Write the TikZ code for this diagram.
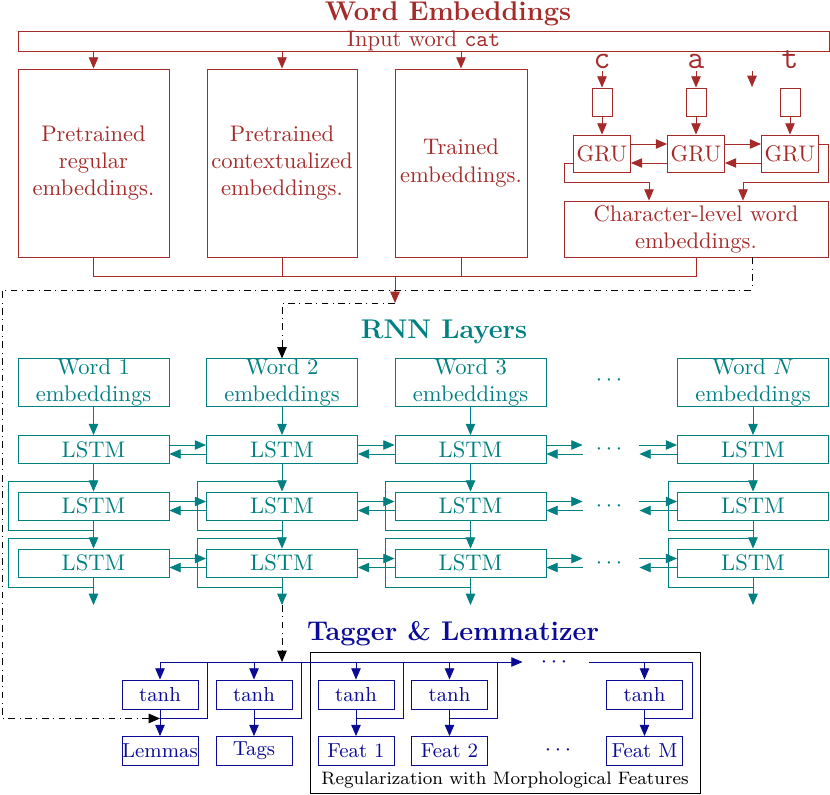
\documentclass[tikz,border=0pt]{standalone}
\usepackage{amsmath,amssymb,amsfonts}
\usepackage{tikz}
\usetikzlibrary{arrows.meta, positioning}
\usepackage{xcolor}

\definecolor{embred}{RGB}{165,42,42}
\definecolor{rnnteal}{RGB}{0,128,128}
\definecolor{tagblue}{RGB}{10,10,150}

\newlength{\px}
\setlength{\px}{0.0156cm}

\tikzset{
  cell/.style={draw, inner sep=0pt, align=center},
  embbox/.style={cell, embred},
  rnnbox/.style={cell, rnnteal, minimum width=151\px},
  tagbox/.style={cell, tagblue, font=\small, minimum width=76\px, minimum height=29\px},
  titletext/.style={font=\large\bfseries},
  hdots/.style={inner sep=0pt, minimum width=56\px},
  skipline/.style={dash dot, black},
}

\begin{document}
\begin{tikzpicture}[x=\px, y=-\px, >={Triangle[length=5pt, width=4.2pt]}]
    \useasboundingbox (0,0) rectangle (830,794);

    % word embeddings
    \begin{scope}[embred]
    \node[titletext] (embtitle) at (448,14) {Word Embeddings};
    \node[embbox, minimum width=811\px, minimum height=18\px] (input) at (423.5,41) {Input word \texttt{cat}};
    \node[embbox, minimum width=151\px, minimum height=188\px] (pre) at (93.5,163) {Pretrained\\regular\\embeddings.};
    \node[embbox, minimum width=150\px, minimum height=188\px] (ctx) at (282,163) {Pretrained\\contextualized\\embeddings.};
    \node[embbox, minimum width=132\px, minimum height=188\px] (trn) at (461,163) {Trained\\embeddings.};
    \foreach \n in {pre,ctx,trn}
        \draw[->] (input.south -| \n.north) -- (\n.north);

    \foreach \n/\x in {c/602, a/696, t/790} {
        \node[font=\Large\ttfamily, inner sep=1pt, anchor=base] (l\n) at (\x,68) {\n};
        \node[embbox, minimum width=20\px, minimum height=28\px] (b\n) at (\x,102) {};
        \node[embbox, minimum width=57\px, minimum height=37\px] (g\n) at (\x,153.5) {GRU};
        \draw[->] (b\n) -- (g\n);
    }
    \draw[->] (lc.south) -- (bc.north);
    \draw[->] (la.south) -- (ba.north);
    \coordinate (tstray) at (752,87);
    \draw[->] ([xshift=-38\px]lt.south) -- (tstray);

    \draw[->] ([yshift=9.5\px]gc.east) -- ([yshift=9.5\px]ga.west);
    \draw[->] ([yshift=-9.5\px]ga.west) -- ([yshift=-9.5\px]gc.east);
    \draw[->] ([yshift=9.5\px]ga.east) -- ([yshift=9.5\px]gt.west);
    \draw[->] ([yshift=-9.5\px]gt.west) -- ([yshift=-9.5\px]ga.east);

    \node[embbox, minimum width=264\px, minimum height=56\px] (chr) at (696,229) {Character-level word\\embeddings.};
    \coordinate (fbl) at (564,182);
    \coordinate (fbr) at (828,182);
    \draw[->] ([yshift=-9.5\px]gc.west) -| (fbl) -| ([xshift=-47\px]chr.north);
    \draw[->] ([yshift=9.5\px]gt.east) -| (fbr) -| ([xshift=47\px]chr.north);

    \coordinate (merge) at (395,276);
    \coordinate (embout) at (395,303);
    \draw (pre.south) |- (chr.south |- merge) -- (chr.south);
    \draw (ctx.south) -- (ctx.south |- merge);
    \draw (trn.south) -- (trn.south |- merge);
    \draw[->] (merge) -- (embout);
    \end{scope}

    % rnn layers
    \begin{scope}[rnnteal]
    \node[titletext] (rnntitle) at (444,332) {RNN Layers};
    \foreach \c/\x/\lab in {1/93.5/1, 2/282/2, 3/470.5/3, 4/753/$N$} {
        \node[rnnbox, minimum height=45\px] (w\c) at (\x,382.5) {Word \lab\\embeddings};
        \foreach \r/\y in {1/449.5, 2/506, 3/563}
            \node[rnnbox, minimum height=28\px] (l\r\c) at (\x,\y) {LSTM};
        \coordinate (o\c) at (\x,605);
        \draw[->] (w\c) -- (l1\c);
        \draw[->] (l1\c) -- (l2\c);
        \draw[->] (l2\c) -- (l3\c);
        \draw[->] (l3\c) -- (o\c);
        \foreach \r in {2,3}
            \draw ([yshift=10\px]l\r\c.north) -| ([xshift=-9\px]l\r\c.west) |- ([yshift=-10\px]l\r\c.south);
    }
    \node[hdots] (wdots) at (611,380) {$\cdots$};
    \foreach \r/\y in {1/449.5, 2/506, 3/563} {
        \node[hdots] (d\r) at (611,\y) {$\cdots$};
        \draw[->] ([yshift=4.5\px]l\r1.east) -- ([yshift=4.5\px]l\r2.west);
        \draw[->] ([yshift=-4.5\px]l\r2.west) -- ([yshift=-4.5\px]l\r1.east);
        \draw[->] ([yshift=4.5\px]l\r2.east) -- ([yshift=4.5\px]l\r3.west);
        \draw[->] ([yshift=-4.5\px]l\r3.west) -- ([yshift=-4.5\px]l\r2.east);
        \draw[->] ([yshift=4.5\px]l\r3.east) -- ([yshift=4.5\px]d\r.west);
        \draw[->] ([yshift=-4.5\px]d\r.west) -- ([yshift=-4.5\px]l\r3.east);
        \draw[->] ([yshift=4.5\px]d\r.east) -- ([yshift=4.5\px]l\r4.west);
        \draw[->] ([yshift=-4.5\px]l\r4.west) -- ([yshift=-4.5\px]d\r.east);
    }
    \end{scope}

    % tagger and lemmatizer
    \node[titletext, tagblue] (tagtitle) at (453,634) {Tagger \& Lemmatizer};
    \node[draw, minimum width=390\px, minimum height=141\px, inner sep=0pt] (regbox) at (505,722.5) {};
    \node[font=\footnotesize, anchor=south, inner sep=2pt] (regtext) at (regbox.south) {Regularization with Morphological Features};

    \begin{scope}[tagblue]
    \coordinate (busl) at (160,662);
    \foreach \h/\x/\lab in {1/160/Lemmas, 2/254/Tags, 3/356/Feat 1, 4/449.5/Feat 2, 5/644.5/Feat M} {
        \node[tagbox] (th\h) at (\x,694.5) {tanh};
        \node[tagbox] (out\h) at (\x,751) {\lab};
        \draw[->] (th\h.north |- busl) -- (th\h);
        \draw[->] (th\h) -- (out\h);
        \path ([xshift=9\px]th\h.east) coordinate (sk\h);
        \draw (sk\h |- busl) |- ([yshift=-9\px]th\h.south);
    }
    \node[hdots, minimum width=66\px] (bdots) at (556,662) {$\cdots$};
    \node[hdots] (fdots) at (560,750) {$\cdots$};
    \draw[->] (busl) -- (bdots.west);
    \draw (bdots.east) -- (sk5 |- busl);
    \end{scope}

    % dash-dot links
    \coordinate (bypass) at (2,290);
    \coordinate (lemjoin) at ([yshift=-9\px]th1.south);
    \draw[skipline, ->] ([xshift=56\px]chr.south) |- (bypass) |- (lemjoin);
    \draw[skipline, ->] (embout) -| (w2.north);
    \draw[skipline, ->] (o2) -- (o2 |- busl);
\end{tikzpicture}
\end{document}
